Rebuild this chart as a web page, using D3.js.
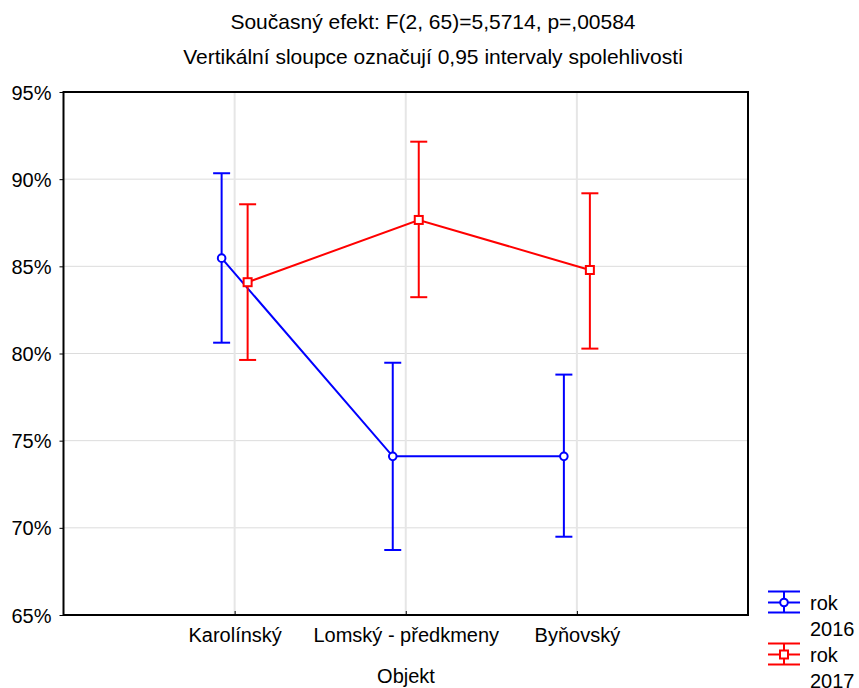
<!DOCTYPE html>
<html><head><meta charset="utf-8">
<script src="https://cdn.jsdelivr.net/npm/d3@7"></script>
<style>body{margin:0;background:#fff}svg{display:block}text{font-family:"Liberation Sans",Arial,sans-serif;fill:#000}</style>
</head><body>
<svg id="c" width="859" height="688"></svg>
<script>
const categories = ["Karolínský", "Lomský - předkmeny", "Byňovský"];
const seriesNames = ["rok 2016", "rok 2017"];
const mean2016 = [85.47, 74.1, 74.1];
const low2016 = [80.62, 68.73, 69.49];
const high2016 = [90.34, 79.47, 78.79];
const mean2017 = [84.09, 87.66, 84.79];
const low2017 = [79.63, 83.23, 80.28];
const high2017 = [88.56, 92.15, 89.19];
const yTicks = [65, 70, 75, 80, 85, 90, 95];
const titleLines = ["Současný efekt: F(2, 65)=5,5714, p=,00584", "Vertikální sloupce označují 0,95 intervaly spolehlivosti"];
const xTitle = "Objekt";

const svg = d3.select("#c");
const L = 63.5, R = 748, T = 92, B = 615;
const x = d3.scalePoint().domain(categories).range([L, R]).padding(1);
const y = d3.scaleLinear().domain([65, 95]).range([B, T]);
const colors = ["#0000ff", "#ff0000"];
const offsets = [-13, 13];

// gridlines
svg.append("g").selectAll("line").data(yTicks.slice(1, -1)).join("line")
  .attr("x1", L).attr("x2", R).attr("y1", d => y(d)).attr("y2", d => y(d))
  .attr("stroke", "#dcdcdc").attr("stroke-width", 1);
svg.append("g").selectAll("line").data(categories).join("line")
  .attr("x1", d => x(d)).attr("x2", d => x(d)).attr("y1", T).attr("y2", B)
  .attr("stroke", "#e6e6e6").attr("stroke-width", 2);

// axes
const yAxis = svg.append("g").attr("transform", `translate(${L},0)`)
  .call(d3.axisLeft(y).tickValues(yTicks).tickSize(4).tickPadding(8).tickFormat(d => d + "%"));
yAxis.select(".domain").remove();
yAxis.selectAll("text").style("font-size", "20px").attr("dy", "0.35em");
const xAxis = svg.append("g").attr("transform", `translate(0,${B})`)
  .call(d3.axisBottom(x).tickSize(-4).tickPadding(13));
xAxis.select(".domain").remove();
xAxis.selectAll("text").style("font-size", "20px").attr("dy", "0.71em");

svg.append("rect").attr("x", L).attr("y", T).attr("width", R - L).attr("height", B - T)
  .attr("fill", "none").attr("stroke", "#000").attr("stroke-width", 2);

// titles
svg.append("g").selectAll("text").data(titleLines).join("text")
  .attr("x", 433).attr("y", (d, i) => 29 + i * 35).attr("text-anchor", "middle")
  .style("font-size", "21px").text(d => d);
svg.append("text").attr("x", 406).attr("y", 683).attr("text-anchor", "middle")
  .style("font-size", "20px").text(xTitle);

// series
const series = [
  {mean: mean2016, low: low2016, high: high2016},
  {mean: mean2017, low: low2017, high: high2017}
];
series.forEach((s, si) => {
  const g = svg.append("g");
  const c = colors[si];
  const px = i => x(categories[i]) + offsets[si];
  const idx = d3.range(categories.length);
  g.append("path").attr("d", d3.line().x(i => px(i)).y(i => y(s.mean[i]))(idx))
    .attr("fill", "none").attr("stroke", c).attr("stroke-width", 2);
  idx.forEach(i => {
    g.append("line").attr("x1", px(i)).attr("x2", px(i)).attr("y1", y(s.low[i])).attr("y2", y(s.high[i]))
      .attr("stroke", c).attr("stroke-width", 2);
    [s.low[i], s.high[i]].forEach(v => {
      g.append("line").attr("x1", px(i) - 8.5).attr("x2", px(i) + 8.5).attr("y1", y(v)).attr("y2", y(v))
        .attr("stroke", c).attr("stroke-width", 2);
    });
    if (si === 0) {
      g.append("circle").attr("cx", px(i)).attr("cy", y(s.mean[i])).attr("r", 3.8)
        .attr("fill", "#fff").attr("stroke", c).attr("stroke-width", 2);
    } else {
      g.append("rect").attr("x", px(i) - 4).attr("y", y(s.mean[i]) - 4).attr("width", 8).attr("height", 8)
        .attr("fill", "#fff").attr("stroke", c).attr("stroke-width", 2);
    }
  });
});

// legend
seriesNames.forEach((name, si) => {
  const g = svg.append("g").attr("transform", `translate(0,${si * 52})`);
  const c = colors[si];
  const cy = 602.5;
  [cy - 11, cy, cy + 10].forEach(yy => g.append("line").attr("x1", 768).attr("x2", 800).attr("y1", yy).attr("y2", yy)
    .attr("stroke", c).attr("stroke-width", 2));
  g.append("line").attr("x1", 784).attr("x2", 784).attr("y1", cy - 11).attr("y2", cy + 10).attr("stroke", c).attr("stroke-width", 2);
  if (si === 0) g.append("circle").attr("cx", 784).attr("cy", cy).attr("r", 3.8).attr("fill", "#fff").attr("stroke", c).attr("stroke-width", 2);
  else g.append("rect").attr("x", 780).attr("y", cy - 4).attr("width", 8).attr("height", 8).attr("fill", "#fff").attr("stroke", c).attr("stroke-width", 2);
  const parts = name.split(" ");
  parts.forEach((p, k) => g.append("text").attr("x", 810).attr("y", cy + 7 + k * 26).style("font-size", "20px").text(p));
});
</script>
</body></html>
